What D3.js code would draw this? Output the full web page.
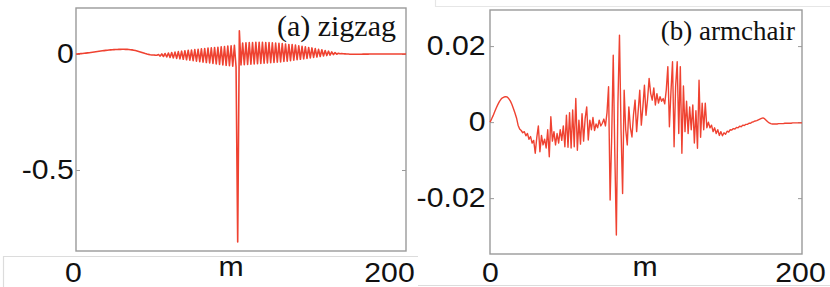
<!DOCTYPE html>
<html>
<head>
<meta charset="utf-8">
<script src="https://cdn.jsdelivr.net/npm/d3@7"></script>
<style>
  body { margin: 0; background: #fff; }
  svg { display: block; }
</style>
</head>
<body>
<div id="chart-area"></div>
<script>
// values, one per site m = 0..200
var zigzag = [
  0, 0.0003, 0.0008, 0.0014, 0.002, 0.0028, 0.0036, 0.0045, 0.0055, 0.0065,
  0.0075, 0.0085, 0.0095, 0.0105, 0.0115, 0.0125, 0.0135, 0.0144, 0.0153, 0.0161,
  0.0168, 0.0175, 0.0181, 0.0186, 0.019, 0.0194, 0.0197, 0.0199, 0.02, 0.02,
  0.0199, 0.0196, 0.0191, 0.0184, 0.0175, 0.0163, 0.0148, 0.013, 0.011, 0.0088,
  0.0065, 0.0042, 0.002, 0.0, -0.0018, -0.0032, -0.0042, -0.0048, -0.0052, -0.0054,
  -0.0025, -0.009, 0.0, -0.011, 0.002, -0.013, 0.004, -0.015, 0.006, -0.017,
  0.008, -0.019, 0.01, -0.021, 0.012, -0.023, 0.014, -0.025, 0.016, -0.027,
  0.017, -0.029, 0.019, -0.031, 0.02, -0.033, 0.022, -0.035, 0.023, -0.037,
  0.025, -0.039, 0.026, -0.041, 0.028, -0.043, 0.029, -0.045, 0.031, -0.047,
  0.032, -0.049, 0.034, -0.051, 0.035, -0.053, 0.037, -0.055, -0.81, 0.1,
  -0.047, 0.047, -0.046, 0.048, -0.045, 0.049, -0.044, 0.049, -0.043, 0.05,
  -0.042, 0.05, -0.041, 0.05, -0.04, 0.049, -0.039, 0.049, -0.038, 0.048,
  -0.037, 0.047, -0.035, 0.046, -0.034, 0.045, -0.032, 0.043, -0.031, 0.041,
  -0.029, 0.04, -0.027, 0.038, -0.025, 0.035, -0.023, 0.033, -0.021, 0.031,
  -0.019, 0.028, -0.017, 0.026, -0.015, 0.023, -0.013, 0.02, -0.011, 0.018,
  -0.009, 0.015, -0.007, 0.012, -0.005, 0.009, -0.003, 0.006, -0.001, 0.003,
  0.0008, 0.0015, 0.001, 0.0005, 0, -0.0005, -0.001, -0.0012, -0.0013, -0.0013,
  -0.0013, -0.0012, -0.0011, -0.001, -0.0009, -0.0008, -0.0007, -0.0006, -0.0005, -0.0004,
  -0.0004, -0.0003, -0.0003, -0.0002, -0.0002, -0.0001, -0.0001, 0, 0, 0,
  0, 0, 0, 0, 0, 0, 0, 0, 0, 0, 0
];

var armchair = [
  0, 0.0008, 0.0017, 0.0027, 0.0037, 0.0046, 0.0054, 0.006, 0.0064, 0.0066,
  0.0067, 0.0066, 0.0062, 0.0056, 0.0047, 0.0036, 0.0024, 0.0011, -0.0008, -0.0018,
  -0.0022, -0.0028, -0.0025, -0.0036, -0.003, -0.0045, -0.0038, -0.0055, -0.0048, -0.0082,
  -0.004, -0.001, -0.0078, -0.0035, -0.006, -0.0045, -0.0068, -0.002, -0.0091, 0.0014,
  -0.005, -0.0025, -0.006, -0.003, -0.0055, -0.002, -0.0048, -0.001, -0.0065, 0.0018,
  -0.0066, 0.0025, -0.0068, 0.0032, -0.0065, 0.0062, -0.0074, 0.0005, -0.0058, 0.0022,
  -0.005, 0.001, 0.004, -0.0047, 0.0005, -0.002, 0.0012, -0.0022, -0.0005, -0.0015,
  0.0005, -0.001, -0.0003, 0.0008, -0.001, 0.0025, 0.0093, -0.0205, -0.004, 0.0176,
  -0.008, -0.0297, 0.005, 0.0229, -0.002, -0.0188, 0.0084, -0.002, -0.006, 0.004,
  -0.0015, -0.0039, 0.002, 0.0058, -0.0025, 0.003, 0.0084, -0.0008, 0.004, 0.0097,
  0.0018, 0.006, 0.0115, 0.0075, 0.0058, 0.009, 0.0045, 0.0075, 0.005, 0.0067,
  0.0055, 0.0062, 0.0048, 0.0085, 0.0146, -0.0012, 0.008, 0.0159, -0.0065, 0.0095,
  0.0159, -0.003, 0.0146, -0.0082, 0.0095, -0.0025, 0.0055, -0.003, 0.004, -0.002,
  0.0045, -0.0055, 0.003, -0.0069, 0.011, -0.004, 0.005, -0.002, 0.005, -0.0015,
  0, -0.0015, -0.0008, -0.0025, -0.0015, -0.003, -0.002, -0.0035, -0.0025, -0.0036,
  -0.0028, -0.0032, -0.0024, -0.0026, -0.002, -0.0021, -0.0017, -0.0018, -0.0014, -0.0015,
  -0.0011, -0.0012, -0.0008, -0.0009, -0.0006, -0.0006, -0.0003, -0.0003, 0, 0.0001,
  0.0003, 0.0004, 0.0006, 0.0008, 0.001, 0.0011, 0.0009, 0.0005, 0.0001, -0.0002,
  -0.0004, -0.0005, -0.0005, -0.0005, -0.0005, -0.0004, -0.0004, -0.0004, -0.0004, -0.0003,
  -0.0003, -0.0003, -0.0003, -0.0003, -0.0002, -0.0002, -0.0002, -0.0002, -0.0002, -0.0002, -0.0002
];

var zigzagTicks = [0, -0.5];
var armchairTicks = [0.02, 0, -0.02];
var xTicks = [0, 200];
var xLabel = "m";
var titles = ["(a) zigzag", "(b) armchair"];

var lineColor = "#ef4231";
var frameColor = "#9a9a9a";
var numFont = "'Liberation Sans', Arial, sans-serif";
var serif = "'Liberation Serif', 'Times New Roman', serif";

var svg = d3.select("#chart-area")
  .append("svg")
  .attr("width", 830)
  .attr("height", 287);

// faint edges of the pasted strips
var deco = svg.append("g").attr("stroke-width", 1.2).attr("fill", "none");
deco.append("path").attr("stroke", "#dcdcdc").attr("d", "M3.5,287 V256.5 H418");
deco.append("path").attr("stroke", "#e6e6e6").attr("d", "M435.5,0 V6.5 H830");
deco.append("path").attr("stroke", "#dcdcdc").attr("d", "M418,285.5 H830");

function panel(opt) {
  var x = d3.scaleLinear().domain([0, 200]).range([opt.left, opt.right]);
  var y = d3.scaleLinear().domain(opt.yDomain).range([opt.bottom, opt.top]);

  var g = svg.append("g");

  g.append("rect")
    .attr("x", opt.left)
    .attr("y", opt.top)
    .attr("width", opt.right - opt.left)
    .attr("height", opt.bottom - opt.top)
    .attr("fill", "none")
    .attr("stroke", frameColor)
    .attr("stroke-width", 1.4);

  var yAxis = g.append("g")
    .attr("transform", "translate(" + opt.left + ",0)")
    .call(d3.axisLeft(y).tickValues(opt.ticks).tickSize(-4).tickPadding(opt.pad)
      .tickFormat(d => String(d)));
  yAxis.select(".domain").remove();
  yAxis.selectAll("line").attr("stroke", frameColor);
  yAxis.selectAll("text")
    .attr("font-family", numFont)
    .attr("font-size", 27)
    .attr("fill", "#111")
    .attr("transform", "scale(1.12,1)");

  var yRight = g.append("g")
    .attr("transform", "translate(" + opt.right + ",0)")
    .call(d3.axisRight(y).tickValues(opt.ticks).tickSize(-4).tickFormat(""));
  yRight.select(".domain").remove();
  yRight.selectAll("line").attr("stroke", frameColor);

  var line = d3.line()
    .x((d, i) => x(i))
    .y(d => y(d));

  g.append("path")
    .datum(opt.data)
    .attr("d", line)
    .attr("fill", "none")
    .attr("stroke", lineColor)
    .attr("stroke-width", opt.lineWidth)
    .attr("stroke-linejoin", "round");

  g.append("text")
    .attr("x", opt.titleX)
    .attr("y", opt.titleY)
    .attr("text-anchor", "end")
    .attr("font-family", serif)
    .attr("font-size", opt.titleSize)
    .attr("fill", "#111")
    .text(opt.title);

  // bottom labels (panel a sits on a slightly narrower strip)
  var xl = d3.scaleLinear().domain([0, 200]).range(opt.labelRange);
  var xAxis = g.append("g")
    .call(d3.axisBottom(xl).tickValues(xTicks).tickSize(0));
  xAxis.select(".domain").remove();
  xAxis.selectAll("text")
    .attr("x", 0)
    .attr("y", 282)
    .attr("dy", null)
    .attr("font-family", numFont)
    .attr("font-size", 27)
    .attr("fill", "#111")
    .attr("transform", "scale(1.12,1)");

  g.append("text")
    .attr("y", 276)
    .attr("text-anchor", "middle")
    .attr("font-family", numFont)
    .attr("font-size", 27)
    .attr("fill", "#111")
    .attr("transform", "translate(" + xl(100) + ",0) scale(1.12,1)")
    .text(xLabel);
}

panel({
  data: zigzag, ticks: zigzagTicks, title: titles[0], titleSize: 30,
  left: 76, right: 406, top: 8, bottom: 251,
  yDomain: [-0.849, 0.198], pad: 2, lineWidth: 1.6,
  titleX: 396, titleY: 36,
  labelRange: [73, 389]
});

panel({
  data: armchair, ticks: armchairTicks, title: titles[1], titleSize: 27,
  left: 490, right: 802, top: 10, bottom: 254,
  yDomain: [-0.0347, 0.0295], pad: 4, lineWidth: 1.4,
  titleX: 795, titleY: 40,
  labelRange: [490, 800]
});
</script>
</body>
</html>
